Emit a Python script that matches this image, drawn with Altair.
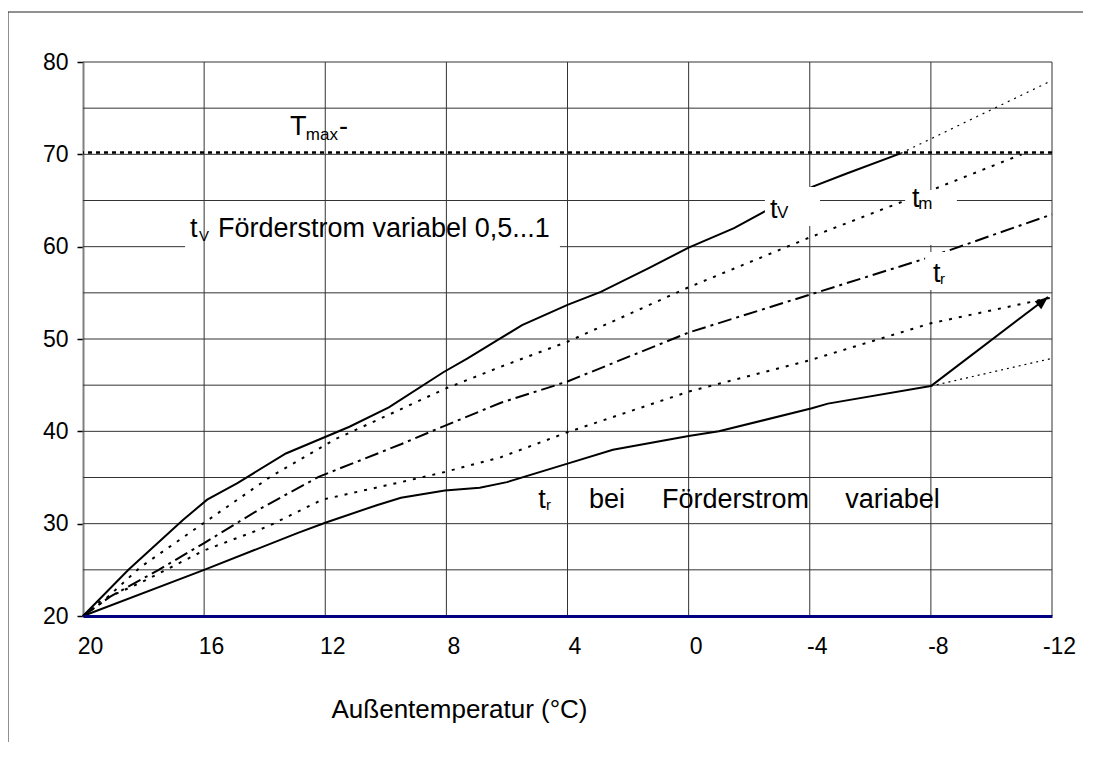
import altair as alt
import pandas as pd

# ---------------- data ----------------
x_ticks = [20, 16, 12, 8, 4, 0, -4, -8, -12]
y_ticks = [20, 30, 40, 50, 60, 70, 80]
y_grid = [25, 30, 35, 40, 45, 50, 55, 60, 65, 70, 75, 80]
x_grid = [16, 12, 8, 4, 0, -4, -8, -12]

# t_V supply temperature (solid) up to T_max
tv_T = [20, 18.5, 16.7, 15.9, 14.9, 13.3, 11.2, 9.9, 8.1, 7.3, 6.3, 5.5, 4.0, 2.9, 1.3, 0.0, -1.5, -2.5, -4.1, -5.2, -7.0]
tv_v = [20, 25.0, 30.4, 32.6, 34.4, 37.6, 40.5, 42.6, 46.4, 47.9, 49.9, 51.5, 53.7, 55.1, 57.7, 59.9, 62.0, 63.8, 66.5, 67.9, 70.1]
# t_V continuation above T_max (thin dotted)
tv_ext_T = [-7.0, -12.0]
tv_ext_v = [70.1, 78.0]

# t_m mean temperature (dotted)
tm_T = [20, 19.4, 18.1, 16.0, 13.8, 11.7, 9.5, 8.05, 6.2, 4.0, 0.0, -4.0, -7.0, -8.0, -11.0]
tm_v = [20, 21.4, 25.3, 30.1, 35.1, 39.1, 42.4, 44.6, 47.0, 49.7, 55.6, 61.0, 64.8, 66.1, 70.0]

# t_r return temperature (dash-dot)
tr_T = [20, 19.1, 17.5, 16.0, 14.05, 12.2, 9.5, 8.2, 6.2, 4.0, 0.0, -4.0, -7.9, -12.0]
tr_v = [20, 22.1, 25.0, 27.9, 31.8, 35.1, 38.6, 40.4, 43.1, 45.4, 50.7, 54.8, 58.8, 63.5]

# second dotted curve
td_T = [20, 19.4, 18.1, 16.0, 13.9, 12.1, 9.5, 8.05, 6.2, 4.0, 0.0, -4.0, -8.0, -12.0]
td_v = [20, 21.7, 23.6, 27.1, 29.7, 32.6, 34.5, 35.6, 37.2, 39.9, 44.3, 47.7, 51.7, 54.5]

# t_r at variable flow (lower solid)
trv_T = [20, 16.0, 12.9, 12.0, 10.3, 9.5, 8.05, 6.9, 6.0, 4.0, 2.5, 0.0, -1.0, -4.07, -4.6, -8.0]
trv_v = [20, 25.0, 29.0, 30.1, 32.0, 32.8, 33.6, 33.9, 34.5, 36.5, 38.0, 39.5, 40.0, 42.5, 43.0, 44.9]
# arrow from -8 upward
arrow_T = [-8.0, -11.87]
arrow_v = [44.9, 54.55]
# thin dotted continuation of lower solid
trv_ext_T = [-8.0, -12.0]
trv_ext_v = [44.9, 47.9]

tmax = 70.2

# annotation texts (anchor in data coordinates, font size)
ann_label = ["T", "max", "-", "t", "V", "Förderstrom variabel 0,5...1",
             "t", "V", "t", "m", "t", "r",
             "t", "r", "bei", "Förderstrom", "variabel"]
ann_T = [13.16, 12.64, 11.55, 16.47, 16.17, 15.54,
         -2.69, -2.92, -7.38, -7.58, -8.07, -8.30,
         4.97, 4.71, 3.29, 0.88, -5.17]
ann_v = [72.10, 71.55, 72.10, 61.05, 60.62, 61.05,
         63.10, 63.10, 64.33, 64.12, 56.17, 55.96,
         31.70, 31.48, 31.70, 31.70, 31.70]
ann_fs = [27, 17, 27, 27, 15, 27,
          27, 17, 27, 17, 27, 15,
          27, 15, 27, 27, 27]

# white label boxes (data coordinates)
big_box = {"x1": [16.63], "x2": [4.25], "y1": [64.62], "y2": [59.64]}
small_box_x1 = [-2.52, -7.15, -7.81]
small_box_x2 = [-4.34, -8.86, -8.70]
small_box_y1 = [66.46, 66.14, 59.42]
small_box_y2 = [62.24, 60.18, 55.31]

# ---------------- chart ----------------
FONT = "Liberation Sans"
W, H = 969, 554
xs = alt.Scale(domain=[-12, 20], reverse=True, nice=False, zero=False)
ys = alt.Scale(domain=[20, 80], nice=False, zero=False)

x_axis = alt.Axis(
    values=x_ticks, title="Außentemperatur (°C)", grid=False, ticks=False, tickSize=0,
    domain=True, domainColor="#000080", domainWidth=3,
    labelFont=FONT, labelFontSize=23, labelPadding=19, labelOffset=7,
    labelColor="black", labelFlush=False, labelOverlap=False,
    labelExpr="'' + datum.value",
    titleFont=FONT, titleFontSize=26, titleFontWeight="normal", titleColor="black",
    titleX=376, titleY=101, titleBaseline="alphabetic", titleAlign="center",
    zindex=1)
y_axis = alt.Axis(
    values=y_ticks, title=None, grid=False, tickSize=6, tickColor="black", tickWidth=1.5,
    domain=True, domainColor="#808080", domainWidth=2,
    labelFont=FONT, labelFontSize=23, labelPadding=9, labelColor="black",
    labelFlush=False, labelOverlap=False, labelExpr="'' + datum.value", zindex=0)


def df(T, v):
    return pd.DataFrame({"T": T, "v": v, "i": list(range(len(T)))})


def X(field="T"):
    return alt.X(f"{field}:Q", scale=xs, axis=x_axis)


def Y(field="v"):
    return alt.Y(f"{field}:Q", scale=ys, axis=y_axis)


def line(T, v, dash=None, width=2.0):
    kw = dict(color="black", strokeWidth=width, clip=False)
    if dash:
        kw["strokeDash"] = dash
    return alt.Chart(df(T, v)).mark_line(**kw).encode(x=X(), y=Y(), order="i:Q")


frame = alt.Chart(pd.DataFrame({"a": [0]})).mark_rect(
    fill="white", fillOpacity=0, stroke="#222222", strokeWidth=1, clip=False
).encode(x=alt.value(-75), x2=alt.value(1400), y=alt.value(-50), y2=alt.value(1000))

hgrid = alt.Chart(pd.DataFrame({"v": y_grid})).mark_rule(color="#333333", strokeWidth=1).encode(y=Y())
bigbox = alt.Chart(pd.DataFrame(big_box)).mark_rect(color="white").encode(
    x=X("x1"), x2="x2:Q", y=Y("y1"), y2="y2:Q")
vgrid = alt.Chart(pd.DataFrame({"T": x_grid})).mark_rule(color="#333333", strokeWidth=1).encode(x=X())

tmax_rule = alt.Chart(pd.DataFrame({"v": [tmax]})).mark_rule(
    color="black", strokeWidth=2.5, strokeDash=[4, 4]).encode(y=Y())

l_tv = line(tv_T, tv_v)
l_tv_ext = line(tv_ext_T, tv_ext_v, dash=[2, 5], width=1.2)
l_tm = line(tm_T, tm_v, dash=[3, 7])
l_tr = line(tr_T, tr_v, dash=[14, 5, 3, 5])
l_td = line(td_T, td_v, dash=[3, 7])
l_trv = line(trv_T, trv_v)
l_arrow = line(arrow_T, arrow_v)
l_trv_ext = line(trv_ext_T, trv_ext_v, dash=[2, 4], width=1.2)

head = alt.Chart(df(arrow_T[-1:], arrow_v[-1:])).mark_point(
    shape="M0,0L-0.8,2L0.8,2Z", filled=True, color="black", opacity=1,
    size=169, angle=51, clip=False).encode(x=X(), y=Y())

smallbox = alt.Chart(pd.DataFrame({"x1": small_box_x1, "x2": small_box_x2,
                                   "y1": small_box_y1, "y2": small_box_y2})).mark_rect(color="white").encode(
    x=X("x1"), x2="x2:Q", y=Y("y1"), y2="y2:Q")

texts = alt.Chart(pd.DataFrame({"label": ann_label, "T": ann_T, "v": ann_v, "fs": ann_fs})).mark_text(
    align="left", baseline="alphabetic", font=FONT, color="black", clip=False
).encode(x=X(), y=Y(), text="label:N", size=alt.Size("fs:Q", scale=None, legend=None))

chart = alt.layer(
    frame, hgrid, bigbox, vgrid,
    l_tv, l_tv_ext, l_tm, l_tr, l_td, l_trv, l_arrow, l_trv_ext, head,
    tmax_rule, smallbox, texts,
).properties(
    width=W, height=H,
    autosize=alt.AutoSizeParams(type="none"),
    padding={"left": 75, "top": 54, "right": 31, "bottom": 126},
    background="white",
).configure_view(stroke=None)

chart.save("out.html", embed_options={"renderer": "svg", "actions": False})
